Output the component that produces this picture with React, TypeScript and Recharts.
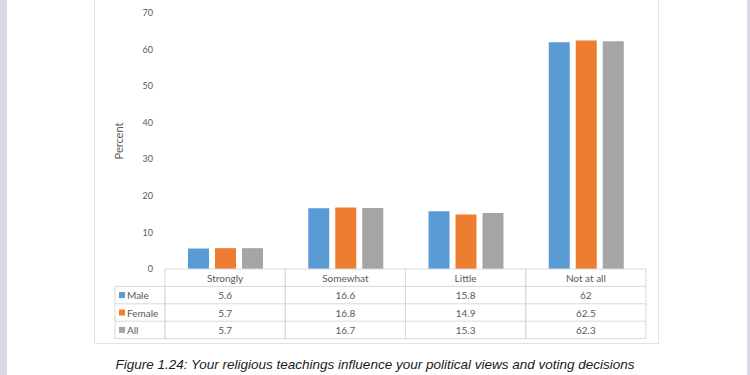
import React from 'react';
import { BarChart, Bar, XAxis, YAxis } from 'recharts';

const categories = ['Strongly', 'Somewhat', 'Little', 'Not at all'];
const male = [5.6, 16.6, 15.8, 62];
const female = [5.7, 16.8, 14.9, 62.5];
const all = [5.7, 16.7, 15.3, 62.3];
const seriesNames = ['Male', 'Female', 'All'];
const seriesColors = ['#5B9BD5', '#ED7D31', '#A5A5A5'];
const yTicks = [0, 10, 20, 30, 40, 50, 60, 70];
const caption = 'Figure 1.24: Your religious teachings influence your political views and voting decisions';

const seriesValues = [male, female, all];
const data = categories.map((c, i) => ({
  category: c,
  Male: male[i],
  Female: female[i],
  All: all[i],
}));

const W = 750;
const H = 375;
const MARGIN = { top: 13, right: 104, bottom: 0, left: 115 };
const YAXIS_W = 50;
const PLOT_W = W - MARGIN.left - MARGIN.right - YAXIS_W;
const COL_W = PLOT_W / categories.length;
const ROW_H = 17.4;
const LEGEND_W = 50;
const LINE = '#d9d9d9';
const TXT = '#595959';
const FONT = 'Lato, "Open Sans", sans-serif';
const TFS = 10;

const TableTick = (props: any) => {
  const { x, y, payload, index } = props;
  const i = categories.indexOf(payload.value);
  const left = x - COL_W / 2;
  const rows = [0, 1, 2, 3];
  return (
    <g>
      <rect x={left} y={y} width={COL_W} height={ROW_H * 4} fill="none" stroke={LINE} strokeWidth={1} />
      {rows.slice(1).map((r) => (
        <line key={r} x1={left} x2={left + COL_W} y1={y + r * ROW_H} y2={y + r * ROW_H} stroke={LINE} strokeWidth={1} />
      ))}
      <text x={x} y={y + ROW_H / 2} textAnchor="middle" dominantBaseline="central" fontSize={TFS} fill={TXT} fontFamily={FONT}>
        {payload.value}
      </text>
      {seriesValues.map((vals, s) => (
        <text key={s} x={x} y={y + (s + 1) * ROW_H + ROW_H / 2} textAnchor="middle" dominantBaseline="central" fontSize={TFS} fill={TXT} fontFamily={FONT}>
          {String(vals[i])}
        </text>
      ))}
      {index === 0 && (
        <g>
          <rect x={left - LEGEND_W} y={y + ROW_H} width={LEGEND_W} height={ROW_H * 3} fill="none" stroke={LINE} strokeWidth={1} />
          {[2, 3].map((r) => (
            <line key={r} x1={left - LEGEND_W} x2={left} y1={y + r * ROW_H} y2={y + r * ROW_H} stroke={LINE} strokeWidth={1} />
          ))}
          {seriesNames.map((n, s) => (
            <g key={n}>
              <rect x={left - LEGEND_W + 4} y={y + (s + 1) * ROW_H + ROW_H / 2 - 3} width={6} height={6} fill={seriesColors[s]} />
              <text x={left - LEGEND_W + 12} y={y + (s + 1) * ROW_H + ROW_H / 2} dominantBaseline="central" fontSize={TFS} fill={TXT} fontFamily={FONT}>
                {n}
              </text>
            </g>
          ))}
        </g>
      )}
    </g>
  );
};

const PercentLabel = (props: any) => {
  const vb = props.viewBox || {};
  const cx = vb.x + 3;
  const cy = vb.y + vb.height / 2;
  return (
    <text x={cx} y={cy} transform={`rotate(-90 ${cx} ${cy})`} textAnchor="middle" dominantBaseline="central" fontSize={11} fill={TXT} fontFamily={FONT}>
      Percent
    </text>
  );
};

export default function App() {
  return (
    <div style={{ position: 'absolute', left: 0, top: 0, width: W, height: H, background: '#ffffff', overflow: 'hidden' }}>
      <div style={{ position: 'absolute', left: 0, top: 0, width: 7, height: H, background: '#d9d9e1' }} />
      <div style={{ position: 'absolute', left: 747, top: 0, width: 3, height: H, background: '#d9d9e1' }} />
      <div style={{ position: 'absolute', left: 94, top: -2, width: 565, height: 346, border: '1px solid #e3e3e3', boxSizing: 'border-box' }} />
      <div style={{ position: 'absolute', left: 0, top: 0 }}>
        <BarChart width={W} height={H} data={data} margin={MARGIN} barGap={6} barSize={21}>
          <YAxis
            width={YAXIS_W}
            domain={[0, 70]}
            ticks={yTicks}
            axisLine={false}
            tickLine={false}
            tickSize={0}
            tickMargin={12}
            interval={0}
            tick={{ fontSize: 9, fill: TXT, fontFamily: FONT }}
            label={<PercentLabel />}
          />
          <XAxis
            dataKey="category"
            height={106}
            axisLine={false}
            tickLine={false}
            tickSize={0}
            tickMargin={0}
            interval={0}
            tick={<TableTick />}
          />
          {seriesNames.map((n, s) => (
            <Bar key={n} dataKey={n} fill={seriesColors[s]} isAnimationActive={false} />
          ))}
        </BarChart>
      </div>
      <div
        style={{
          position: 'absolute',
          left: 0,
          top: 357,
          width: W,
          textAlign: 'center',
          fontFamily: '"Liberation Sans", Arial, sans-serif',
          fontStyle: 'italic',
          fontSize: 13.5,
          color: '#1a1a1a',
          whiteSpace: 'nowrap',
        }}
      >
        {caption}
      </div>
    </div>
  );
}
